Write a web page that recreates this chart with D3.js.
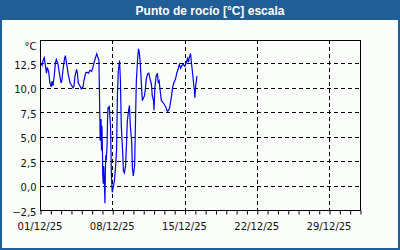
<!DOCTYPE html>
<html>
  <head>
    <meta charset="utf-8">
    <script type="text/javascript" src="https://d3js.org/d3.v7.min.js"></script>
    <style>
      body { margin:0; background:#fafdfa; }
    </style>
  </head>
  <body>
  </body>
  <script>

var titulo = "Punto de rocío [°C] escala";
var unidad = "°C";
var inicio = new Date(2025, 11, 1);   // 01/12/25
var fin = new Date(2026, 0, 1);
var yTicks = [-2.5, 0, 2.5, 5, 7.5, 10, 12.5];

// horas desde el 01/12 00:00
var horas = [1,5,7,10,13,15,17,20,23,26,28,30,33,36,38,42,45,49,51,53,57,59,62,64,66,70,73,77,79,81,
  85,87,89,93,96,100,102,106,109,113,116,120,123,127,130,132,135,137,138,139,140,142,143,144,145,146,147,148,150,151,
  152,153,154,156,157,158,159,161,164,166,168,171,173,175,178,180,182,185,187,189,192,194,196,199,201,203,206,208,210,213,
  215,217,220,222,224,227,229,231,233,236,238,240,243,245,247,250,253,257,259,261,264,265,267,270,273,275,277,279,282,286,
  289,293,296,299,302,306,308,311,315,318,321,324,327,330,333,337,340,343,345,347,350,352,355,357,359,360,362,364,365];
var rocio = [12.6,12.3,12.8,13.1,12.1,11.5,12.1,11.7,10.5,10.1,10.7,10.2,11.2,12.6,12.9,12.4,11.5,10.5,10.8,11.7,13.0,13.3,12.4,11.9,11.3,10.5,10.3,10.0,10.2,11.1,
  11.9,11.5,10.5,10.2,9.9,10.1,10.7,11.5,11.6,11.5,11.8,11.7,12.1,12.8,13.2,13.5,13.1,12.8,10.2,7.3,4.6,6.8,3.6,6.1,4.1,1.0,0.2,2.0,0.0,-1.8,
  1.5,3.1,2.6,4.1,6.6,7.9,8.0,8.1,6.1,1.0,-0.7,0.0,0.5,1.5,3.6,9.2,11.7,12.8,10.7,6.1,3.6,1.5,1.3,2.0,4.1,6.6,7.7,8.2,6.1,4.6,
  1.7,1.0,2.0,6.6,10.7,13.0,14.0,13.6,12.6,10.2,8.7,8.9,9.2,9.9,10.9,11.4,11.5,10.7,10.4,9.2,8.7,7.7,10.0,11.2,11.5,10.5,10.7,9.9,8.7,8.5,
  8.3,8.0,7.6,7.7,8.1,9.2,10.0,10.5,10.9,11.5,11.9,12.4,12.0,12.3,12.4,12.2,12.6,13.0,12.6,13.1,13.5,12.6,11.4,10.5,9.7,9.0,10.2,10.9,11.2];

var W = 400, H = 250;
var m = {l:40, r:40, t:40, b:40};

var svg = d3.select("body").append("svg").attr("width", W).attr("height", H)
  .style("display","block");

// marco y barra de titulo
svg.append("rect").attr("x",0).attr("y",0).attr("width",W).attr("height",H).attr("fill","#fafdfa");
svg.append("rect").attr("x",0).attr("y",0).attr("width",W).attr("height",20).attr("fill","#1f5e97");
svg.append("rect").attr("x",1).attr("y",1).attr("width",W-2).attr("height",H-2)
  .attr("fill","none").attr("stroke","#1f5e97").attr("stroke-width",2);
svg.append("text").attr("x",210).attr("y",14.5).attr("text-anchor","middle")
  .style("font-family","Liberation Sans, Arial, sans-serif").style("font-weight","bold")
  .style("font-size","12px").attr("fill","#ffffff").text(titulo);

var x = d3.scaleTime().domain([inicio, fin]).range([m.l, W-m.r]);
var y = d3.scaleLinear().domain([-2.5, 14.9]).range([H-m.b, m.t]);

var loc = d3.formatLocale({decimal:",", thousands:".", grouping:[3], currency:["","€"]});
var fmt = loc.format(".1f");
var fmtFecha = d3.timeFormat("%d/%m/%y");

// rejilla
var semanas = x.ticks(d3.timeDay.every(7)).filter(function(d){ return d < fin; });
svg.selectAll(".gy").data(yTicks.filter(function(d){ return d > -2.5; })).enter().append("line")
  .attr("x1", m.l).attr("x2", W-m.r)
  .attr("y1", function(d){ return Math.round(y(d))+0.5; })
  .attr("y2", function(d){ return Math.round(y(d))+0.5; })
  .attr("stroke","#000").attr("stroke-dasharray","4,3");
svg.selectAll(".gx").data(semanas.slice(1)).enter().append("line")
  .attr("y1", m.t).attr("y2", H-m.b)
  .attr("x1", function(d){ return Math.round(x(d))+0.5; })
  .attr("x2", function(d){ return Math.round(x(d))+0.5; })
  .attr("stroke","#000").attr("stroke-dasharray","4,3");

// linea de datos
var datos = horas.map(function(h,i){ return {t:d3.timeHour.offset(inicio, h), v:rocio[i]}; });
var linea = d3.line().x(function(d){ return x(d.t); }).y(function(d){ return y(d.v); });
svg.append("path").datum(datos).attr("d", linea)
  .attr("fill","none").attr("stroke","#0000ee").attr("stroke-width",1.2);

// marco del grafico
svg.append("rect").attr("x", m.l+0.5).attr("y", m.t+0.5)
  .attr("width", W-m.l-m.r).attr("height", H-m.t-m.b)
  .attr("fill","none").attr("stroke","#000");

// eje x: marcas diarias
var ejeX = d3.axisBottom(x).ticks(d3.timeDay.every(1)).tickSize(4).tickFormat("");
var gx = svg.append("g").attr("transform","translate(0.5," + (H-m.b+0.5) + ")").call(ejeX);
gx.select(".domain").remove();
gx.selectAll("line").attr("stroke","#000");

svg.selectAll(".lx").data(semanas).enter().append("text")
  .attr("x", function(d){ return x(d); }).attr("y", 229.5).attr("text-anchor","middle")
  .style("font-family","DejaVu Sans, sans-serif").style("font-size","10px").attr("fill","#101010")
  .text(fmtFecha);

// eje y: etiquetas
svg.selectAll(".ly").data(yTicks).enter().append("text")
  .attr("x", 36.5).attr("y", function(d){ return y(d)+5.5; }).attr("text-anchor","end")
  .style("font-family","DejaVu Sans, sans-serif").style("font-size","10px").attr("fill","#101010")
  .text(fmt);
svg.append("text").attr("x",36.5).attr("y",49.5).attr("text-anchor","end")
  .style("font-family","DejaVu Sans, sans-serif").style("font-size","10px").attr("fill","#101010")
  .text(unidad);

  </script>
</html>
